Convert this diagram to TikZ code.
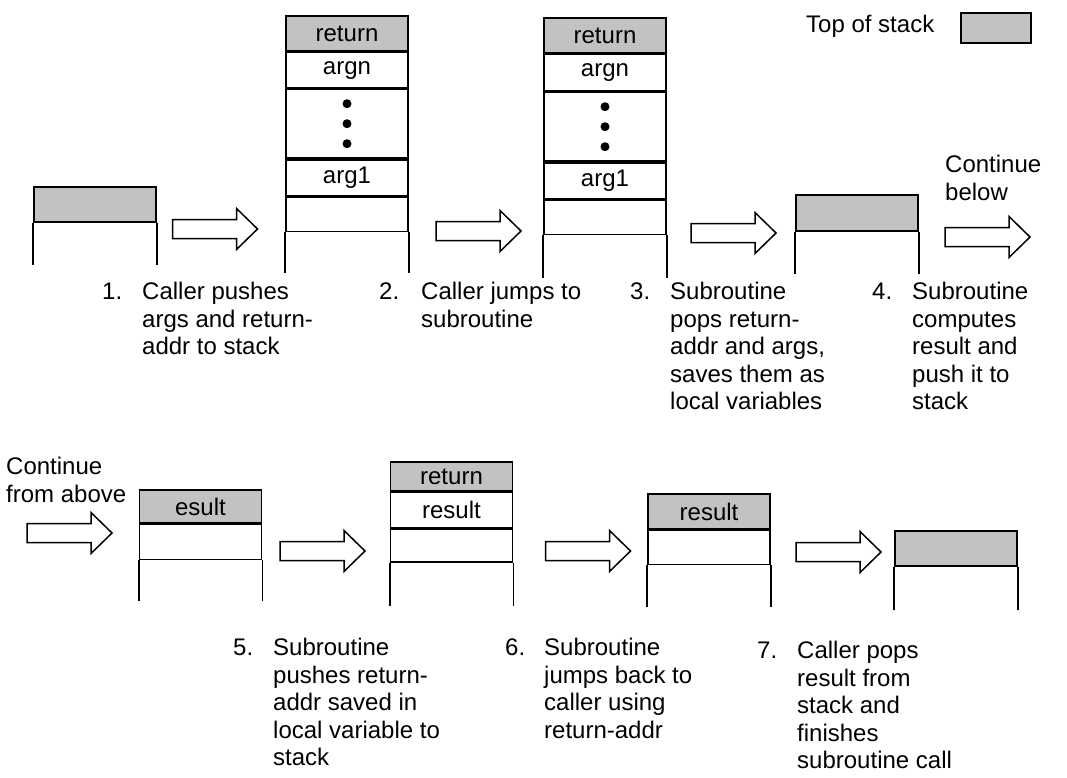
\documentclass[tikz,border=0pt]{standalone}
\usepackage{fontspec}
\setmainfont{Liberation Sans}
\usetikzlibrary{positioning}
\definecolor{tosgray}{gray}{0.76}

\begin{document}
\begin{tikzpicture}[
    x=1pt,y=-1pt,
    font=\fontsize{24}{27.5}\selectfont,
    cell/.style={rectangle,draw,line width=1.6pt,minimum width=122pt,minimum height=35pt,inner sep=0pt},
    tos/.style={cell,fill=tosgray},
    wall/.style={line width=1.6pt},
    pusharrow/.pic={
      \draw[line width=1.5pt,fill=white] (-42.5,-9.5) -- (21.5,-9.5) -- (21.5,-20.5) -- (42.5,0)
        -- (21.5,20.5) -- (21.5,9.5) -- (-42.5,9.5) -- cycle;
    },
    stepnum/.style={anchor=base west,inner sep=0pt},
    steptext/.style={anchor=north west,align=left,inner sep=0pt}
  ]
  \useasboundingbox (0,0) rectangle (1067,778);

  \node(lt) [anchor=base west,inner sep=0pt] at (806,33) {Top of stack};
  \node(lb) [tos,minimum width=70pt,minimum height=30pt] at (996,28) {};

  % first row
  \node(a1) [tos] at (95,204.5) {};
  \draw[wall] (a1.south west) -- ++(0,42);
  \draw[wall] (a1.south east) -- ++(0,42);

  \pic(ar1) at (215,229) {pusharrow};

  \node(b1) [tos] at (347,33.5) {return};
  \node(b2) [cell,below=0pt of b1] {argn};
  \node(b3) [cell,minimum height=69pt,below=0pt of b2] {};
  \node(b4) [cell,minimum height=36pt,below=0pt of b3] {arg1};
  \node(b5) [cell,minimum height=34pt,below=0pt of b4] {};
  \foreach \d in {-20,0,20}
    \fill ([yshift=\d pt]b3.center) circle (4.5pt);
  \draw[wall] (b5.south west) -- ++(0,41);
  \draw[wall] (b5.south east) -- ++(0,41);

  \pic(ar2) at (478.5,231) {pusharrow};

  \node(c1) [tos] at (605,35.5) {return};
  \node(c2) [cell,minimum height=36pt,below=0pt of c1] {argn};
  \node(c3) [cell,minimum height=69pt,below=0pt of c2] {};
  \node(c4) [cell,minimum height=36pt,below=0pt of c3] {arg1};
  \node(c5) [cell,minimum height=34pt,below=0pt of c4] {};
  \foreach \d in {-20,0,20}
    \fill ([yshift=\d pt]c3.center) circle (4.5pt);
  \draw[wall] (c5.south west) -- ++(0,43);
  \draw[wall] (c5.south east) -- ++(0,43);

  \pic(ar3) at (733.5,233) {pusharrow};

  \node(d1) [tos,minimum height=36pt] at (857,213) {};
  \draw[wall] (d1.south west) -- ++(0,42);
  \draw[wall] (d1.south east) -- ++(0,42);

  \node(cb) [steptext] at (945,155) {Continue\\below};
  \pic(ar4) at (987.5,237) {pusharrow};

  \node(n1) [stepnum] at (102,299) {1.};
  \node(t1) [steptext] at ([xshift=40pt]n1.north west) {Caller pushes\\args and return-\\addr to stack};
  \node(n2) [stepnum] at (379,299) {2.};
  \node(t2) [steptext] at ([xshift=42pt]n2.north west) {Caller jumps to\\subroutine};
  \node(n3) [stepnum] at (630,299) {3.};
  \node(t3) [steptext] at ([xshift=40pt]n3.north west) {Subroutine\\pops return-\\addr and args,\\saves them as\\local variables};
  \node(n4) [stepnum] at (872,299) {4.};
  \node(t4) [steptext] at ([xshift=40pt]n4.north west) {Subroutine\\computes\\result and\\push it to\\stack};

  % second row
  \node(cf) [steptext] at (6,457) {Continue\\from above};
  \pic(ar5) at (69.5,533) {pusharrow};

  \node(e1) [tos,minimum height=33pt] at (200.5,506.5) {esult};
  \node(e2) [cell,below=0pt of e1] {};
  \draw[wall] (e2.south west) -- ++(0,41);
  \draw[wall] (e2.south east) -- ++(0,41);

  \pic(ar6) at (322.5,551) {pusharrow};

  \node(f1) [tos,minimum height=29pt] at (451.5,476.5) {return};
  \node(f2) [cell,below=0pt of f1] {result};
  \node(f3) [cell,minimum height=33pt,below=0pt of f2] {};
  \draw[wall] (f3.south west) -- ++(0,43);
  \draw[wall] (f3.south east) -- ++(0,43);

  \pic(ar7) at (588,551) {pusharrow};

  \node(g1) [tos] at (709,511.5) {result};
  \node(g2) [cell,minimum height=34pt,below=0pt of g1] {};
  \draw[wall] (g2.south west) -- ++(0,42);
  \draw[wall] (g2.south east) -- ++(0,42);

  \pic(ar8) at (838.5,552) {pusharrow};

  \node(h1) [tos] at (956,548.5) {};
  \draw[wall] (h1.south west) -- ++(0,43);
  \draw[wall] (h1.south east) -- ++(0,43);

  \node(n5) [stepnum] at (233,655) {5.};
  \node(t5) [steptext] at ([xshift=40pt]n5.north west) {Subroutine\\pushes return-\\addr saved in\\local variable to\\stack};
  \node(n6) [stepnum] at (505,655) {6.};
  \node(t6) [steptext] at ([xshift=39pt]n6.north west) {Subroutine\\jumps back to\\caller using\\return-addr};
  \node(n7) [stepnum] at (757,658) {7.};
  \node(t7) [steptext] at ([xshift=40pt]n7.north west) {Caller pops\\result from\\stack and\\finishes\\subroutine call};

\end{tikzpicture}
\end{document}
